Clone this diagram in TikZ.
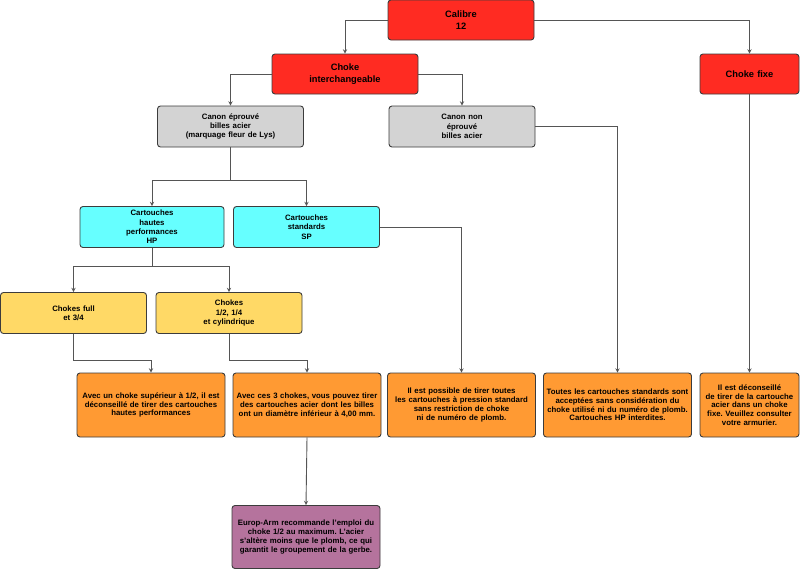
\documentclass[tikz,border=0pt]{standalone}
\usepackage{fontspec}
\setmainfont{Liberation Sans}
\usetikzlibrary{arrows}
\frenchspacing

\definecolor{boxred}{HTML}{FF2B22}
\definecolor{boxgray}{HTML}{D3D3D3}
\definecolor{boxcyan}{HTML}{66FFFF}
\definecolor{boxyellow}{HTML}{FFD966}
\definecolor{boxorange}{HTML}{FF9A33}
\definecolor{boxpurple}{HTML}{B5739D}
\definecolor{boxborder}{HTML}{3C3C3C}
\definecolor{linkgray}{HTML}{555555}

\tikzstyle{box} = [draw=boxborder,line width=0.9pt,rounded corners=3pt,align=center,inner sep=1pt,font=\bfseries]
\tikzstyle{redbox} = [box,fill=boxred,minimum width=146pt,minimum height=40pt,text width=140pt,font=\bfseries\fontsize{9.3}{11.3}\selectfont]
\tikzstyle{graybox} = [box,fill=boxgray,minimum width=146pt,minimum height=41pt,text width=142pt,font=\bfseries\fontsize{7.8}{9.3}\selectfont]
\tikzstyle{cyanbox} = [graybox,fill=boxcyan]
\tikzstyle{yellowbox} = [graybox,fill=boxyellow]
\tikzstyle{notebox} = [box,fill=boxorange,minimum width=146pt,minimum height=64pt,text width=146pt,font=\bfseries\fontsize{7.8}{8.8}\selectfont]
\tikzstyle{arrowdecorate} = [->,>=stealth,draw=linkgray,line width=0.9pt]

\begin{document}
\begin{tikzpicture}[x=1pt,y=-1pt]
    \useasboundingbox (0,0) rectangle (800,571);
    %% nodes
    \node[redbox] (calibre) at (461,20) {Calibre\\12};
    \node[redbox] (interch) at (345,74) {Choke\\interchangeable};
    \node[redbox,minimum width=99pt,text width=95pt] (fixe) at (749.5,74) {Choke fixe};
    \node[graybox] (eprouve) at (230.5,126.5) {Canon éprouvé\\billes acier\\(marquage fleur de Lys)};
    \node[graybox] (noneprouve) at (462,126.5) {Canon non\\éprouvé\\billes acier};
    \node[cyanbox,minimum width=144pt] (hp) at (152,227) {Cartouches\\hautes\\performances\\HP};
    \node[cyanbox] (sp) at (306.5,227) {Cartouches\\standards\\SP};
    \node[yellowbox] (full) at (73.5,313) {Chokes full\\et 3/4};
    \node[yellowbox] (demi) at (229,313) {Chokes\\1/2, 1/4\\et cylindrique};
    \node[notebox] (avechp) at (151,405) {Avec un choke supérieur à 1/2, il est\\déconseillé de tirer des cartouches\\hautes performances};
    \node[notebox] (aveccing) at (307,405) {Avec ces 3 chokes, vous pouvez tirer\\des cartouches acier dont les billes\\ont un diamètre inférieur à 4,00 mm.};
    \node[notebox] (possible) at (461.5,405) {Il est possible de tirer toutes\\les cartouches à pression standard\\sans restriction de choke\\ni de numéro de plomb.};
    \node[notebox] (toutes) at (617.5,405) {Toutes les cartouches standards sont\\acceptées sans considération du\\choke utilisé ni du numéro de plomb.\\Cartouches HP interdites.};
    \node[notebox,minimum width=99pt,text width=97pt] (deconseille) at (749.5,405) {Il est déconseillé\\de tirer de la cartouche\\acier dans un choke\\fixe. Veuillez consulter\\votre armurier.};
    \node[notebox,fill=boxpurple,minimum height=63pt] (europ) at (306,537) {Europ-Arm recommande l'emploi du\\choke 1/2 au maximum. L'acier\\s'altère moins que le plomb, ce qui\\garantit le groupement de la gerbe.};

    %% edges
    \foreach \startnode/\startanchor/\endnode in {
      calibre/west/interch, calibre/east/fixe, interch/west/eprouve,
      interch/east/noneprouve, noneprouve/east/toutes, sp/east/possible}
    {
      \draw[arrowdecorate] (\startnode.\startanchor) -| (\endnode.north);
    }
    \foreach \startnode/\endnode in {fixe/deconseille, aveccing/europ}
    {
      \draw[arrowdecorate] (\startnode.south) -- (\endnode.north);
    }
    \foreach \startnode/\drop/\endnode in {
      eprouve/33/hp, eprouve/33/sp, hp/18/full, hp/18/demi,
      full/26/avechp, demi/26/aveccing}
    {
      \draw[arrowdecorate] (\startnode.south) -- ++(0,\drop) -| (\endnode.north);
    }
\end{tikzpicture}
\end{document}
